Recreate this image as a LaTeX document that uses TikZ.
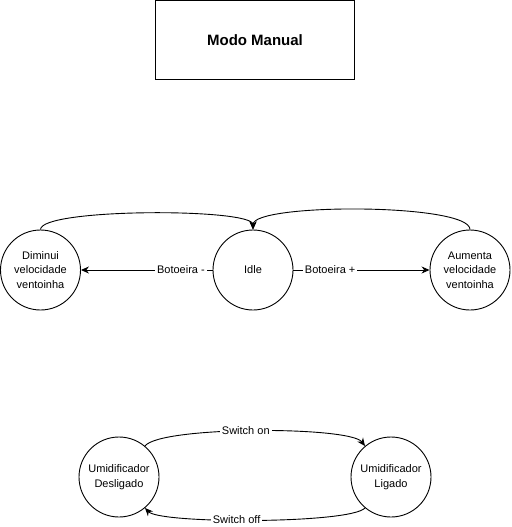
\documentclass[tikz,border=0pt]{standalone}
\usepackage{fontspec}
\setmainfont{Liberation Sans}
\usetikzlibrary{arrows.meta}

\begin{document}
\begin{tikzpicture}[x=1pt,y=-1pt,line width=.9pt,>={Stealth[length=8pt,width=7pt]},
    state/.style={draw,circle,minimum size=80pt,inner sep=0pt,align=center,font=\fontsize{11}{14.5}\selectfont},
    lbl/.style={fill=white,inner sep=2pt,font=\fontsize{11}{13}\selectfont}]
      \useasboundingbox (0,0) rectangle (511,527);

      % titulo
      \node (titulo) at (255,40) [draw,minimum width=199pt,minimum height=79pt,font=\fontsize{15}{18}\selectfont\bfseries] {Modo Manual};

      % ventoinha
      \node (dim) at (40.5,270) [state] {Diminui\\velocidade\\ventoinha};
      \node (idle) at (253,270) [state] {Idle};
      \node (aum) at (470,270) [state] {Aumenta\\velocidade\\ventoinha};

      \path[->] (idle) edge node[lbl,pos=.24] {Botoeira -} (dim);
      \path[->] (idle) edge node[lbl,pos=.27] {Botoeira +} (aum);

      \draw[->] (dim.north) .. controls (40.5,208) and (253,208) .. (idle.north);
      \draw[->] (aum.north) .. controls (470,203) and (253,203) .. (idle.north);

      % umidificador
      \node (desl) at (119,477) [state] {Umidificador\\Desligado};
      \node (lig) at (391,477) [state] {Umidificador\\Ligado};

      \draw[->] (desl.50) .. controls (160,426) and (350,426) .. (lig.130)
        node[lbl,pos=.47] {Switch on};
      \draw[->] (lig.230) .. controls (350,524) and (160,524) .. (desl.310)
        node[lbl,pos=.56] {Switch off};

    \end{tikzpicture}
\end{document}
